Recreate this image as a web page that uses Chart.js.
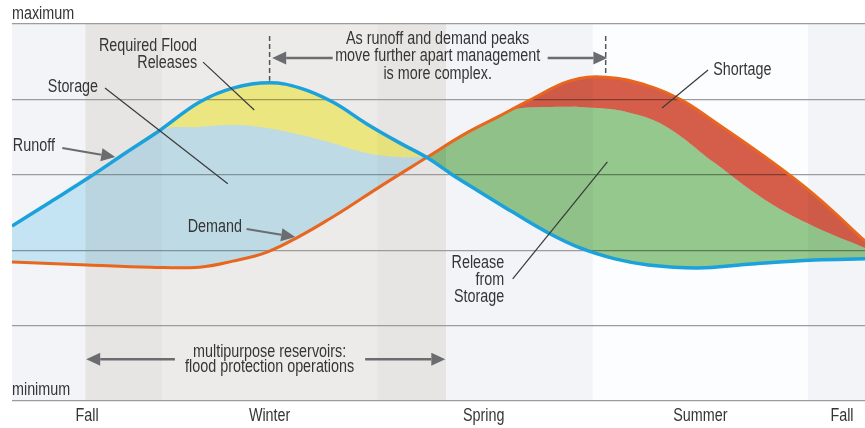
<!DOCTYPE html>
<html>
<head>
<meta charset="utf-8">
<script src="https://cdn.jsdelivr.net/npm/chart.js@4.4.1/dist/chart.umd.min.js"></script>
<style>
  html, body { margin: 0; padding: 0; background: #fff; }
  #wrap { width: 865px; height: 428px; }
</style>
</head>
<body>
<div id="wrap"><canvas id="chart"></canvas></div>
<script>
// x: position in the water year, 0 = early fall, 100 = following fall
// y: level, 0 = minimum, 100 = maximum
const runoffX = [0, 4.5, 9.1, 13.3, 17.4, 22.0, 25.9, 30.2, 33.8, 37.6, 41.6, 45.5, 48.7, 51.7, 54.9, 58.7, 62.7, 66.6, 70.7, 74.6, 80.4, 86.3, 94.1, 100];
const runoffY = [46.4, 52.8, 59.4, 65.8, 71.9, 79.3, 83.0, 84.4, 83.0, 79.3, 73.5, 68.4, 64.5, 59.9, 55.4, 50.1, 44.8, 40.6, 37.7, 36.1, 35.3, 36.3, 37.4, 37.7];

const demandX = [0, 8.8, 16.2, 22.0, 25.9, 29.9, 33.8, 37.6, 39.3, 43.1, 48.7, 52.9, 56.9, 60.7, 65.4, 69.6, 74.6, 78.5, 82.4, 88.3, 94.1, 100];
const demandY = [36.9, 36.1, 35.5, 35.5, 37.1, 39.5, 43.8, 48.8, 51.2, 56.8, 64.7, 70.6, 75.3, 79.8, 84.9, 85.9, 83.6, 79.8, 74.0, 64.7, 54.6, 42.4];

// upper edge of the storage area (below it: storage, above it up to runoff: flood releases)
const storageX = [0, 4.5, 9.1, 13.3, 17.4, 22.0, 25.9, 29.9, 33.8, 37.6, 41.6, 45.5, 48.7];
const storageY = [46.4, 52.8, 59.4, 65.8, 71.9, 72.7, 73.2, 72.4, 70.6, 68.4, 65.8, 64.7, 64.7];

// upper edge of release from storage (above it up to demand: shortage)
const releaseX = [48.7, 52.9, 56.9, 58.4, 62.7, 68.6, 72.5, 76.6, 82.4, 88.3, 94.1, 100];
const releaseY = [64.7, 70.6, 75.3, 77.2, 78.0, 77.7, 76.4, 72.9, 63.1, 53.3, 46.2, 40.6];

const seasonLabels = ['Fall', 'Winter', 'Spring', 'Summer', 'Fall'];
const seasonPos = [8.8, 30.2, 55.3, 80.7, 97.3];

// shaded background bands [from, to, colour]
const bands = [
    [0, 8.6, '#f3f4f7'],
    [8.6, 17.6, '#e6e5e4'],
    [17.6, 42.8, '#ecebe9'],
    [42.8, 50.9, '#e6e5e4'],
    [50.9, 68.1, '#f3f4f7'],
    [68.1, 93.3, '#fcfdfe'],
    [93.3, 100, '#f3f4f7']
];

const FONT = '17.5px "Liberation Sans", Arial, sans-serif';
const NARROW = 0.82;   // condensed look
const TEXT = '#353535';
const ARROW = '#6b6c6f';

function points(xs, ys) {
    return xs.map((x, i) => ({ x: x, y: ys[i] }));
}

// text labels: lines, x, y (first line), alignment, line height
const labels = [
    { text: ['Required Flood', 'Releases'], x: 21.7, y: 94.2, align: 'right', lh: 17 },
    { text: ['Storage'], x: 4.2, y: 83.3, align: 'left', lh: 17 },
    { text: ['Runoff'], x: 0.1, y: 67.6, align: 'left', lh: 17 },
    { text: ['Demand'], x: 20.6, y: 46.2, align: 'left', lh: 17 },
    { text: ['Release', 'from', 'Storage'], x: 57.7, y: 36.6, align: 'right', lh: 17 },
    { text: ['Shortage'], x: 82.2, y: 87.8, align: 'left', lh: 17 },
    { text: ['As runoff and demand peaks', 'move further apart management', 'is more complex.'], x: 49.9, y: 96.0, align: 'center', lh: 17.5 },
    { text: ['multipurpose reservoirs:', 'flood protection operations'], x: 30.2, y: 13.0, align: 'center', lh: 15.5 }
];

// thin pointer lines [x1, y1, x2, y2]
const leaders = [
    [22.4, 89.9, 28.4, 77.2],
    [10.9, 83.0, 25.3, 57.6],
    [58.7, 32.4, 69.8, 63.4],
    [81.6, 87.8, 76.2, 77.7]
];

// arrows [x1, y1, x2 (tip), y2 (tip), width]
const arrows = [
    [5.9, 67.1, 12.1, 64.7, 2],
    [27.5, 45.6, 33.2, 43.5, 2],
    [37.6, 91.0, 30.5, 91.0, 2.5],
    [62.8, 91.0, 69.8, 91.0, 2.5],
    [19.1, 11.1, 8.7, 11.1, 2.5],
    [41.4, 11.1, 50.8, 11.1, 2.5]
];

const runoff = points(runoffX, runoffY);
const demand = points(demandX, demandY);
const storage = points(storageX, storageY);
const release = points(releaseX, releaseY);

function peak(xs, ys) {
    let k = 0;
    ys.forEach((v, i) => { if (v > ys[k]) k = i; });
    return [xs[k], ys[k]];
}

const backdrop = {
    id: 'backdrop',
    beforeDraw(chart) {
        const { ctx, chartArea, scales } = chart;
        ctx.save();
        bands.forEach(b => {
            const x1 = scales.x.getPixelForValue(b[0]);
            const x2 = scales.x.getPixelForValue(b[1]);
            ctx.fillStyle = b[2];
            ctx.fillRect(x1, chartArea.top, x2 - x1, chartArea.bottom - chartArea.top);
        });
        ctx.restore();
    }
};

// fills are blended like transparent ink over the bands
const blend = {
    id: 'blend',
    beforeDatasetsDraw(chart) {
        chart.ctx.globalCompositeOperation = 'multiply';
    },
    beforeDatasetDraw(chart, args) {
        if (args.index < 2) chart.ctx.globalCompositeOperation = 'source-over';
    },
    afterDatasetsDraw(chart) {
        chart.ctx.globalCompositeOperation = 'source-over';
    }
};

function text(ctx, s, x, y, align) {
    ctx.save();
    ctx.translate(x, y);
    ctx.scale(NARROW, 1);
    ctx.textAlign = align;
    ctx.fillText(s, 0, 0);
    ctx.restore();
}

function drawArrow(ctx, x1, y1, x2, y2, w) {
    const ang = Math.atan2(y2 - y1, x2 - x1);
    const len = 14, half = 6.5;
    const bx = x2 - len * Math.cos(ang), by = y2 - len * Math.sin(ang);
    ctx.strokeStyle = ARROW;
    ctx.fillStyle = ARROW;
    ctx.lineWidth = w;
    ctx.beginPath();
    ctx.moveTo(x1, y1);
    ctx.lineTo(bx, by);
    ctx.stroke();
    ctx.beginPath();
    ctx.moveTo(x2, y2);
    ctx.lineTo(bx + half * Math.sin(ang), by - half * Math.cos(ang));
    ctx.lineTo(bx - half * Math.sin(ang), by + half * Math.cos(ang));
    ctx.closePath();
    ctx.fill();
}

const notes = {
    id: 'notes',
    afterDraw(chart) {
        const { ctx, chartArea, scales } = chart;
        const X = v => scales.x.getPixelForValue(v);
        const Y = v => scales.y.getPixelForValue(v);
        ctx.save();
        ctx.font = FONT;
        ctx.fillStyle = TEXT;
        ctx.textBaseline = 'middle';

        // axis ends
        text(ctx, 'maximum', chartArea.left, chartArea.top - 10, 'left');
        text(ctx, 'minimum', chartArea.left, chartArea.bottom - 11, 'left');

        // season names under the x ticks
        scales.x.ticks.forEach((t, i) => text(ctx, seasonLabels[i], X(t.value), chartArea.bottom + 15, 'center'));

        labels.forEach(l => {
            l.text.forEach((s, i) => text(ctx, s, X(l.x), Y(l.y) + i * l.lh, l.align));
        });

        ctx.strokeStyle = '#3a3a3a';
        ctx.lineWidth = 1.2;
        leaders.forEach(a => {
            ctx.beginPath();
            ctx.moveTo(X(a[0]), Y(a[1]));
            ctx.lineTo(X(a[2]), Y(a[3]));
            ctx.stroke();
        });

        // dashed markers at the two peaks
        ctx.setLineDash([5, 3]);
        ctx.strokeStyle = '#555';
        ctx.lineWidth = 1.5;
        [peak(runoffX, runoffY), peak(demandX, demandY)].forEach(p => {
            ctx.beginPath();
            ctx.moveTo(X(p[0]), Y(96.8));
            ctx.lineTo(X(p[0]), Y(p[1]) - 2);
            ctx.stroke();
        });
        ctx.setLineDash([]);

        arrows.forEach(a => drawArrow(ctx, X(a[0]), Y(a[1]), X(a[2]), Y(a[3]), a[4]));
        ctx.restore();
    }
};

const lineBase = { pointRadius: 0, tension: 0.4 };

new Chart(document.getElementById('chart'), {
    type: 'line',
    data: {
        datasets: [
            { ...lineBase, label: 'Runoff', data: runoff, borderColor: '#1ba1dc', borderWidth: 3.5, fill: false, order: 0 },
            { ...lineBase, label: 'Demand', data: demand, borderColor: '#e8661e', borderWidth: 3, fill: false, order: 0 },
            { ...lineBase, label: 'Storage', data: storage, borderColor: 'transparent', borderWidth: 0, backgroundColor: 'rgb(206, 238, 251)', fill: 1, order: 1 },
            { ...lineBase, label: 'Required Flood Releases', data: runoff, borderColor: 'transparent', borderWidth: 0, backgroundColor: 'rgb(255, 250, 140)', fill: 2, order: 1 },
            { ...lineBase, label: 'Release from Storage', data: release, borderColor: 'transparent', borderWidth: 0, backgroundColor: 'rgb(150, 202, 141)', fill: 0, order: 1 },
            { ...lineBase, label: 'Shortage', data: demand, borderColor: 'transparent', borderWidth: 0, backgroundColor: 'rgb(216, 95, 74)', fill: 4, order: 1 }
        ]
    },
    options: {
        responsive: true,
        maintainAspectRatio: false,
        animation: false,
        events: [],
        layout: { padding: { left: 12, right: 0, top: 24, bottom: 0 } },
        plugins: {
            legend: { display: false },
            tooltip: { enabled: false }
        },
        scales: {
            x: {
                type: 'linear',
                min: 0,
                max: 100,
                afterBuildTicks: scale => {
                    scale.ticks = seasonPos.map(v => ({ value: v }));
                },
                afterFit: scale => { scale.height = 27; },
                ticks: { display: false },
                grid: { display: false },
                border: { display: false }
            },
            y: {
                min: 0,
                max: 100,
                afterFit: scale => { scale.width = 0; },
                ticks: { display: false, stepSize: 20 },
                grid: { color: '#9c9c9c', lineWidth: 1.3, drawTicks: false },
                border: { display: false }
            }
        }
    },
    plugins: [backdrop, blend, notes]
});
</script>
</body>
</html>
